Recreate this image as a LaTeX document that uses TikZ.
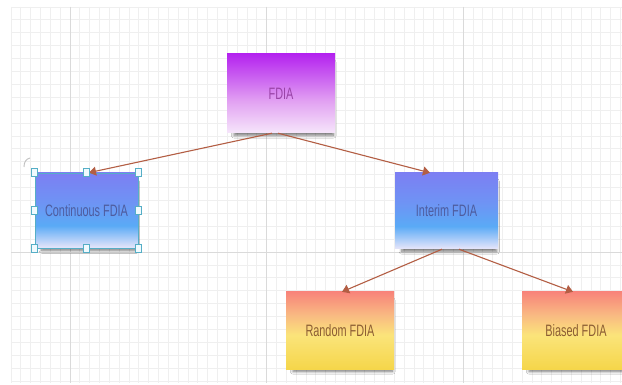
\documentclass[tikz,border=0pt]{standalone}
\usepackage{fontspec}
\usetikzlibrary{arrows.meta,shadows,shadows.blur,calc}
\newfontfamily\boxfont[FakeStretch=0.66]{Liberation Sans}
\definecolor{gridminor}{HTML}{EFEFEF}
\definecolor{gridmajor}{HTML}{DADADA}
\definecolor{arrowc}{HTML}{B35E44}
\definecolor{selc}{HTML}{55AEC6}
\definecolor{pA}{HTML}{F6E6FB}\definecolor{pB}{HTML}{E2A2F2}\definecolor{pC}{HTML}{B423EF}
\definecolor{bA}{HTML}{E8E6FA}\definecolor{bB}{HTML}{5AAAF6}\definecolor{bC}{HTML}{6E94F4}\definecolor{bD}{HTML}{7C7FF3}
\definecolor{yA}{HTML}{F5D64A}\definecolor{yB}{HTML}{FBE47A}\definecolor{yC}{HTML}{F9BA82}\definecolor{yD}{HTML}{F8847A}
\definecolor{ptext}{HTML}{9A44A8}
\definecolor{btext}{HTML}{4E5C9E}
\definecolor{ytext}{HTML}{8C5E34}
\pgfdeclareverticalshading{purpleshade}{100bp}{color(0bp)=(pA); color(25bp)=(pA); color(45bp)=(pB); color(75bp)=(pC); color(100bp)=(pC)}
\pgfdeclareverticalshading{blueshade}{100bp}{color(0bp)=(bA); color(25bp)=(bA); color(40bp)=(bB); color(55bp)=(bC); color(75bp)=(bD); color(100bp)=(bD)}
\pgfdeclareverticalshading{yellowshade}{100bp}{color(0bp)=(yA); color(25bp)=(yA); color(47bp)=(yB); color(60bp)=(yC); color(75bp)=(yD); color(100bp)=(yD)}
\tikzset{
  box/.style={rectangle, inner sep=0pt, font=\boxfont\fontsize{16.5}{18}\selectfont,
    blur shadow={shadow xshift=3pt, shadow yshift=-6pt, shadow scale=0.92, shadow opacity=55, shadow blur steps=8, shadow blur radius=3pt}},
  purplebox/.style={box, shading=purpleshade, text=ptext, minimum width=108pt, minimum height=79pt},
  bluebox/.style={box, shading=blueshade, text=btext, minimum width=103pt, minimum height=76pt},
  yellowbox/.style={box, shading=yellowshade, text=ytext, minimum width=108pt, minimum height=77pt},
  arr/.style={draw=arrowc, line width=1.1pt, -{Triangle[length=7pt,width=9pt]}},
  handle/.style={draw=selc, fill=cyan!6, line width=0.7pt, minimum width=6pt, minimum height=8pt, inner sep=0pt, rectangle}
}
\begin{document}
\begin{tikzpicture}[x=1pt,y=-1pt]
\useasboundingbox (0,0) rectangle (622,385);
\fill[white] (0,0) rectangle (622,385);
% grid
\foreach \k in {0,...,62} {
  \pgfmathsetmacro\xx{11+9.83*\k}
  \draw[gridminor, line width=0.8pt] (\xx,7) -- (\xx,383);
}
\foreach \k in {0,...,29} {
  \pgfmathsetmacro\yy{7+12.9*\k}
  \draw[gridminor, line width=0.8pt] (11,\yy) -- (622,\yy);
}
\foreach \xx in {70,266.6,463.2} \draw[gridmajor, line width=0.9pt] (\xx,7) -- (\xx,383);
\draw[gridmajor, line width=0.9pt] (11,252) -- (622,252);
% boxes
\node[purplebox] (fdia) at (281,93.5) {FDIA};
\node[bluebox, draw=selc, line width=0.7pt, minimum height=75pt] (cont) at (86.5,210.5) {Continuous FDIA};
\node[bluebox] (interim) at (446.5,211) {Interim FDIA};
\node[yellowbox] (random) at (340,330.5) {Random FDIA};
\node[yellowbox] (biased) at (576,330.5) {Biased FDIA};
% connectors
\draw[arr] ([xshift=-9pt]fdia.south) -- ([xshift=2.5pt]cont.north);
\draw[arr] ([xshift=-3pt]fdia.south) -- ([xshift=-16.5pt]interim.north);
\draw[arr] ([xshift=-4.5pt]interim.south) -- ([xshift=2pt]random.north);
\draw[arr] ([xshift=12.5pt]interim.south) -- ([xshift=-3pt]biased.north);
% selection handles
\foreach \a/\n in {north west/h1, north/h2, north east/h3, west/h4, east/h5, south west/h6, south/h7, south east/h8}
  \node[handle] (\n) at (cont.\a) {};
\draw[black!25, line width=0.9pt] (24,167) .. controls (24,162) and (26,159) .. (30,158);
\end{tikzpicture}
\end{document}
